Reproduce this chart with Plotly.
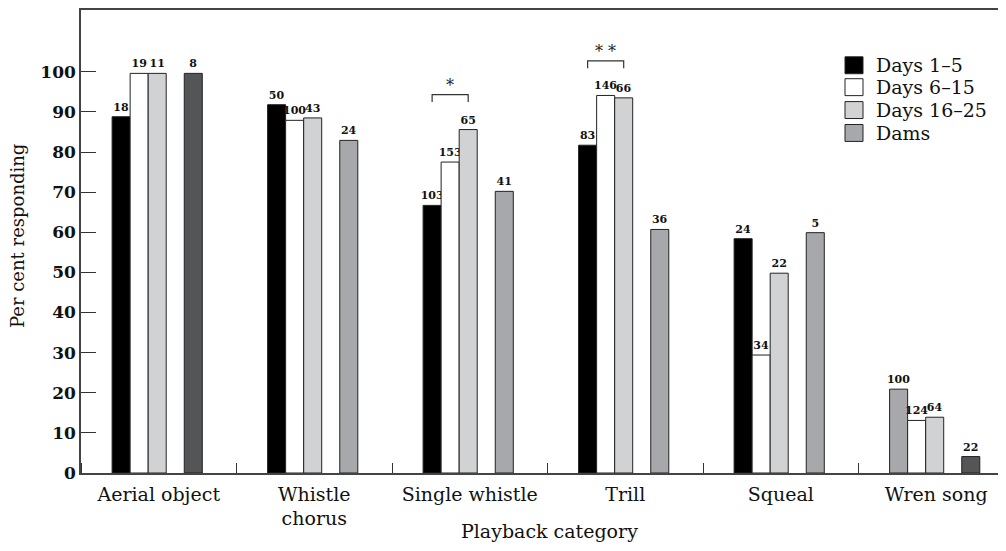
import plotly.graph_objects as go

categories = ["Aerial object", "Whistle<br>chorus", "Single whistle", "Trill", "Squeal", "Wren song"]
series_names = ["Days 1–5", "Days 6–15", "Days 16–25", "Dams"]
days_1_5 = [88.8, 91.8, 66.7, 81.7, 58.4, 20.9]
days_6_15 = [99.6, 87.9, 77.5, 94.1, 29.4, 13.1]
days_16_25 = [99.6, 88.5, 85.6, 93.5, 49.8, 13.9]
dams = [99.6, 82.9, 70.2, 60.7, 59.9, 4.1]
n_1_5 = ["18", "50", "103", "83", "24", "100"]
n_6_15 = ["19", "100", "153", "146", "34", "124"]
n_16_25 = ["11", "43", "65", "66", "22", "64"]
n_dams = ["8", "24", "41", "36", "5", "22"]
y_ticks = [0, 10, 20, 30, 40, 50, 60, 70, 80, 90, 100]
sig_categories = [2, 3]
sig_labels = ["*", "* *"]
sig_heights = [94.3, 102.7]

BLACK = "#000000"
WHITE = "#ffffff"
LIGHT = "#d1d2d4"
MID = "#a7a8ab"
DARK = "#545557"

colors_1_5 = [BLACK] * 6
colors_1_5[5] = MID
colors_6_15 = [WHITE] * 6
colors_16_25 = [LIGHT] * 6
colors_dams = [MID] * 6
colors_dams[0] = DARK
colors_dams[5] = DARK

values = [days_1_5, days_6_15, days_16_25, dams]
labels = [n_1_5, n_6_15, n_16_25, n_dams]
colors = [colors_1_5, colors_6_15, colors_16_25, colors_dams]
legend_colors = [BLACK, WHITE, LIGHT, MID]

W = 0.116
OFF0 = -0.30
slot_offsets = [OFF0, OFF0 + W, OFF0 + 2 * W, OFF0 + 4 * W]
xs = list(range(len(categories)))

FONT = "DejaVu Serif"

# plot area geometry (figure px); page has an 8px body offset
ML, MT, MB = 73, 0, 86
PW, PH = 1006 - ML, 551 - MT - MB


def px_x(page_x):
    return (page_x - 8 - ML) / PW


def px_y(page_y):
    return (551 - MB - (page_y - 8)) / PH


fig = go.Figure()
for k in range(4):
    fig.add_trace(go.Bar(
        x=xs, y=values[k], name=series_names[k],
        width=W, offset=slot_offsets[k],
        marker=dict(color=colors[k], line=dict(color="#222222", width=1)),
        text=labels[k], textposition="outside", constraintext="none",
        textfont=dict(family=FONT, size=11, color="#111111", weight="bold"),
        cliponaxis=False, showlegend=False,
    ))

shapes = []
annotations = []
for ci, lab, h in zip(sig_categories, sig_labels, sig_heights):
    x1 = ci + slot_offsets[0] + W / 2
    x2 = ci + slot_offsets[2] + W / 2
    shapes.append(dict(type="path", xref="x", yref="y",
                       path=f"M {x1},{h-1.8} L {x1},{h} L {x2},{h} L {x2},{h-1.8}",
                       line=dict(color="#333333", width=1.2)))
    annotations.append(dict(x=(x1 + x2) / 2, y=h - 0.6, xref="x", yref="y", text=lab,
                            showarrow=False, yanchor="bottom",
                            font=dict(family=FONT, size=16, color="#222222")))

# manual legend (box 18x18 px)
leg_box_tops = [55, 77, 100, 123]
for k, name in enumerate(series_names):
    top = leg_box_tops[k]
    shapes.append(dict(type="rect", xref="paper", yref="paper",
                       x0=px_x(845), x1=px_x(863), y0=px_y(top + 17), y1=px_y(top),
                       fillcolor=legend_colors[k], line=dict(color="#222222", width=1)))
    annotations.append(dict(x=px_x(874), y=px_y(top + 8.5), xref="paper", yref="paper",
                            text=name, showarrow=False, xanchor="left", yanchor="middle",
                            font=dict(family=FONT, size=19, color="#111111")))

annotations.append(dict(x=px_x(549), y=px_y(531), xref="paper", yref="paper",
                        text="Playback category", showarrow=False,
                        xanchor="center", yanchor="middle",
                        font=dict(family=FONT, size=19, color="#111111")))
annotations.append(dict(x=px_x(17), y=px_y(235), xref="paper", yref="paper",
                        text="Per cent responding", showarrow=False, textangle=-90,
                        xanchor="center", yanchor="middle",
                        font=dict(family=FONT, size=18, color="#111111")))

fig.update_layout(
    width=1006, height=551,
    margin=dict(l=ML, r=0, t=MT, b=MB, pad=0),
    plot_bgcolor="white", paper_bgcolor="white",
    barmode="overlay",
    showlegend=False,
    shapes=shapes, annotations=annotations,
    xaxis=dict(range=[-0.5, 5.5], tickmode="array", tickvals=xs,
               ticktext=categories, ticks="", showline=True, linecolor="#444444",
               linewidth=1.5, mirror=True, showgrid=False, zeroline=False,
               ticklabelstandoff=3,
               tickfont=dict(family=FONT, size=19, color="#111111"),
               minor=dict(tickmode="array", tickvals=[x - 0.5 for x in xs] + [len(xs) - 0.5],
                          ticks="inside", ticklen=10, tickcolor="#333333", tickwidth=1.2,
                          showgrid=False)),
    yaxis=dict(range=[0, 115.4], tickmode="array", tickvals=y_ticks, ticks="inside",
               ticklen=15, tickwidth=1.2, tickcolor="#333333", showline=True,
               linecolor="#444444", linewidth=1.5, showgrid=False, zeroline=False,
               tickfont=dict(family=FONT, size=17, color="#111111", weight="bold")),
)

fig.write_html("out.html")
